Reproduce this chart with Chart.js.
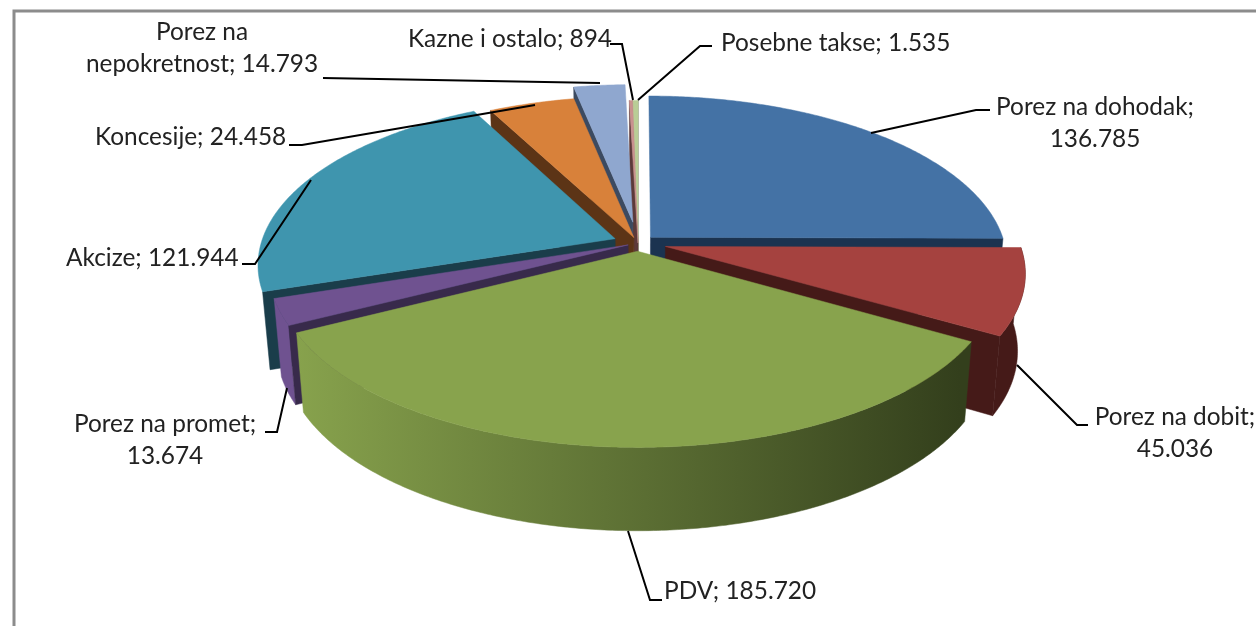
<!DOCTYPE html>
<html>
<head>
<meta charset="utf-8">
<title>Prihodi</title>
<script src="https://cdn.jsdelivr.net/npm/chart.js@4"></script>
<style>
  html, body { margin: 0; padding: 0; background: #fff; overflow: hidden; }
  canvas { display: block; }
</style>
</head>
<body>
<canvas id="pie" width="1256" height="626"></canvas>
<script>
// Chart data
const categories = ['Porez na dohodak', 'Porez na dobit', 'PDV', 'Porez na promet', 'Akcize', 'Koncesije', 'Porez na nepokretnost', 'Kazne i ostalo', 'Posebne takse'];
const values = [136785, 45036, 185720, 13674, 121944, 24458, 14793, 894, 1535];
const topColors = ['#4472a5', '#a5423f', '#88a34d', '#6f5290', '#3f95ae', '#d8813a', '#8fa7cf', '#c9918f', '#b9cd96'];
const darkColors = ['#1b3350', '#451a18', '#333f1c', '#382a4b', '#1a3d4a', '#5c3416', '#3c4a60', '#5c3a3a', '#56633f'];
const explode = [5, 8, 5, 3, 7, 3.5, 13, 0, 0]; // percent of the radius

// Tilted disc: how the flat pie is projected on the page
const tilt = { rx: 354, ry: 164, persp: 0.15, depth: 76, frontDepth: 7, shrink: 0.98 };

// Label placement, same order as categories
const labelPos = [
    { x: 1095, y: 107, align: 'center', breakAfter: 'dohodak;' },
    { x: 1175, y: 417, align: 'center', breakAfter: 'dobit;' },
    { x: 664, y: 591, align: 'left' },
    { x: 165, y: 424, align: 'center', breakAfter: 'promet;' },
    { x: 66, y: 258, align: 'left' },
    { x: 95, y: 137, align: 'left' },
    { x: 202, y: 32, align: 'center', breakAfter: 'na' },
    { x: 408, y: 39, align: 'left' },
    { x: 721, y: 43, align: 'left' }
];
const leaders = [
    [[871, 133], [976, 110], [990, 110]],
    [[1017, 365], [1077, 425], [1088, 425]],
    [[628, 531], [650, 600], [662, 600]],
    [[287, 388], [277, 432], [265, 432]],
    [[311, 180], [255, 264], [242, 264]],
    [[289, 145], [302, 145], [535, 105]],
    [[323, 78], [600, 83]],
    [[610, 44], [622, 44], [633, 100]],
    [[712, 46], [700, 46], [638, 100]]
];

function formatValue(v) {
    return String(v).replace(/\B(?=(\d{3})+$)/g, '.');
}

function project(arc, u, v) {
    const w = 1 - tilt.persp * v;
    return { x: arc.x + tilt.rx * u / w, y: arc.y + tilt.ry * v / w, v: v };
}

// same point on the lower rim of the slab
function lower(arc, p) {
    return {
        x: arc.x + (p.x - arc.x) * tilt.shrink,
        y: p.y + tilt.depth + tilt.frontDepth * Math.max(p.v, 0)
    };
}

function polygon(ctx, pts, fill) {
    ctx.beginPath();
    pts.forEach((p, i) => i ? ctx.lineTo(p.x, p.y) : ctx.moveTo(p.x, p.y));
    ctx.closePath();
    ctx.fillStyle = fill;
    ctx.fill();
    ctx.strokeStyle = fill;
    ctx.lineWidth = 0.5;
    ctx.stroke();
}

function drawSlice(ctx, arc, i) {
    const mid = (arc.startAngle + arc.endAngle) / 2;
    const d = explode[i] / 100;
    const du = d * Math.cos(mid), dv = d * Math.sin(mid);
    const apex = project(arc, du, dv);

    const rim = [];
    const steps = Math.max(2, Math.ceil((arc.endAngle - arc.startAngle) / 0.01));
    for (let s = 0; s <= steps; s++) {
        const a = arc.startAngle + (arc.endAngle - arc.startAngle) * s / steps;
        rim.push(project(arc, du + Math.cos(a), dv + Math.sin(a)));
    }
    const first = rim[0], last = rim[rim.length - 1];

    // round face, light on the left and dark on the right (back slices hide it)
    if (Math.sin(mid) > 0) {
        const shade = ctx.createLinearGradient(290, 0, 960, 0);
        shade.addColorStop(0, topColors[i]);
        shade.addColorStop(1, darkColors[i]);
        polygon(ctx, rim.concat(rim.map(p => lower(arc, p)).reverse()), shade);
    }

    // cut faces, only the ones turned towards the viewer
    if (Math.cos(arc.startAngle) < 0) {
        polygon(ctx, [apex, first, lower(arc, first), lower(arc, apex)], darkColors[i]);
    }
    if (Math.cos(arc.endAngle) > 0) {
        polygon(ctx, [apex, last, lower(arc, last), lower(arc, apex)], darkColors[i]);
    }

    // top
    polygon(ctx, [apex].concat(rim), topColors[i]);
}

const slabPlugin = {
    id: 'slab',
    // the slices are drawn here instead of flat
    beforeDatasetsDraw(chart) {
        const ctx = chart.ctx;
        const arcs = chart.getDatasetMeta(0).data;
        const order = arcs.map((arc, i) => i).sort((a, b) => {
            const ma = (arcs[a].startAngle + arcs[a].endAngle) / 2;
            const mb = (arcs[b].startAngle + arcs[b].endAngle) / 2;
            return Math.sin(ma) - Math.sin(mb);
        });
        ctx.save();
        order.forEach(i => drawSlice(ctx, arcs[i], i));
        ctx.restore();
        return false;
    },
    afterDraw(chart) {
        const ctx = chart.ctx;
        ctx.save();

        // chart frame
        ctx.strokeStyle = '#8c8c8c';
        ctx.lineWidth = 3;
        ctx.beginPath();
        ctx.moveTo(14, 626);
        ctx.lineTo(14, 11);
        ctx.lineTo(1256, 11);
        ctx.stroke();

        // leader lines
        ctx.strokeStyle = '#000';
        ctx.lineWidth = 2;
        leaders.forEach(line => {
            ctx.beginPath();
            line.forEach((p, i) => i ? ctx.lineTo(p[0], p[1]) : ctx.moveTo(p[0], p[1]));
            ctx.stroke();
        });

        // labels
        ctx.font = '24.4px Lato';
        ctx.fillStyle = '#222';
        ctx.textBaseline = 'middle';
        categories.forEach((name, i) => {
            const pos = labelPos[i];
            let text = name + '; ' + formatValue(values[i]);
            if (pos.breakAfter) text = text.replace(pos.breakAfter + ' ', pos.breakAfter + '\n');
            ctx.textAlign = pos.align;
            text.split('\n').forEach((line, n) => ctx.fillText(line, pos.x, pos.y + n * 32));
        });
        ctx.restore();
    }
};

new Chart(document.getElementById('pie'), {
    type: 'pie',
    data: {
        labels: categories,
        datasets: [{ data: values, backgroundColor: topColors, borderWidth: 0 }]
    },
    options: {
        responsive: false,
        animation: false,
        layout: { padding: { left: 20, bottom: 140 } },
        plugins: { legend: { display: false }, tooltip: { enabled: false } }
    },
    plugins: [slabPlugin]
});
</script>
</body>
</html>
